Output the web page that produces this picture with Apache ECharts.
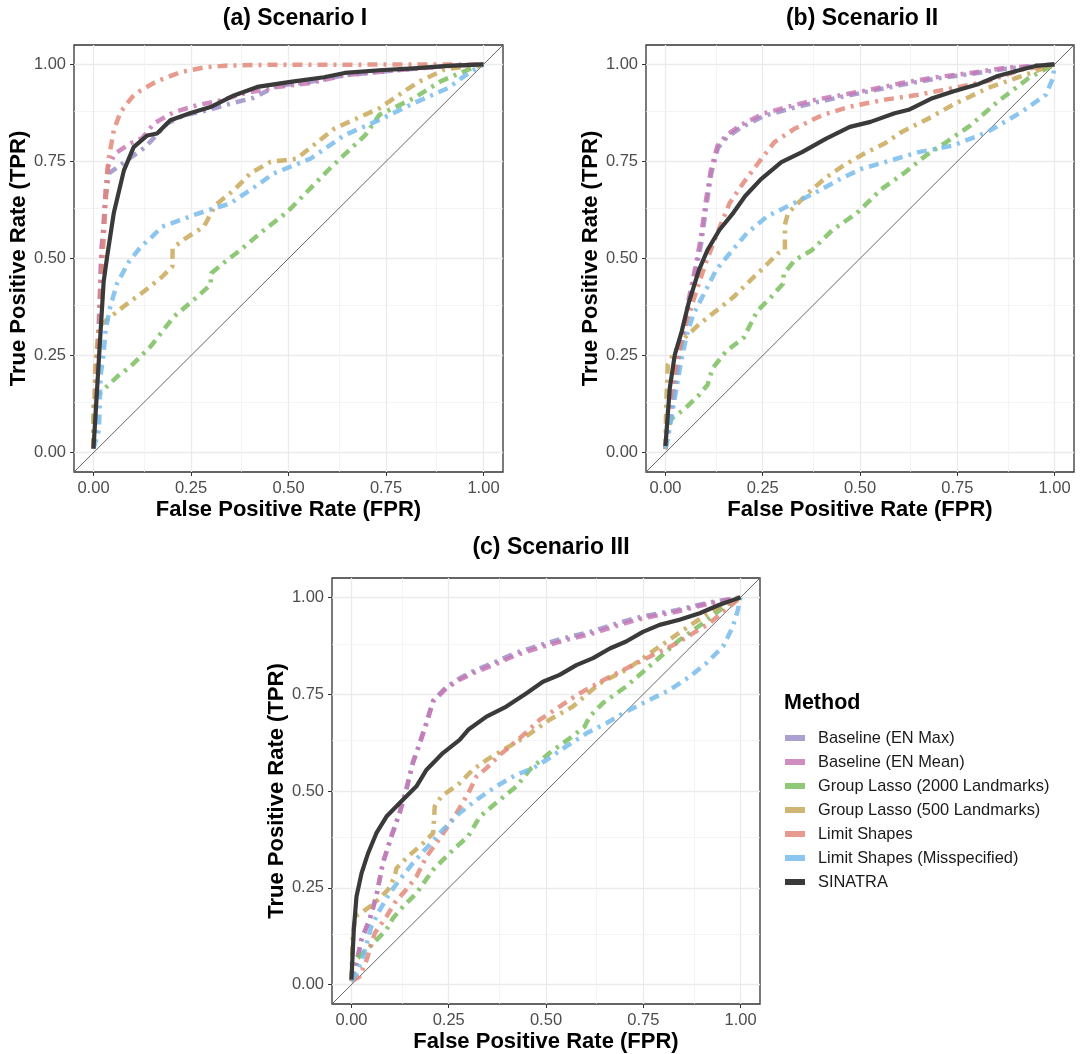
<!DOCTYPE html>
<html><head><meta charset="utf-8">
<script src="https://cdn.jsdelivr.net/npm/echarts@6/dist/echarts.min.js"></script>
<style>html,body{margin:0;padding:0;background:#fff}#c{width:1080px;height:1054px}</style>
</head><body><div id="c"></div>
<script>
// ---------- DATA (FPR, TPR) ----------
const methods = ['Baseline (EN Max)','Baseline (EN Mean)','Group Lasso (2000 Landmarks)','Group Lasso (500 Landmarks)','Limit Shapes','Limit Shapes (Misspecified)','SINATRA'];
const panelTitles = ['(a) Scenario I','(b) Scenario II','(c) Scenario III'];
const tickValues = [0,0.25,0.5,0.75,1];
const minorValues = [0.125,0.375,0.625,0.875];
const diagonal = [[-0.05,-0.05],[1.05,1.05]];

// Scenario I
const a_enMax = [[0,0.01],[0.004,0.1],[0.012,0.3],[0.02,0.5],[0.03,0.65],[0.04,0.72],[0.044,0.723],[0.086,0.753],[0.133,0.787],[0.189,0.848],[0.232,0.869],[0.292,0.882],[0.351,0.899],[0.411,0.914],[0.468,0.944],[0.556,0.955],[0.644,0.972],[0.777,0.985],[0.909,0.996],[1,1]];
const a_enMean = [[0,0.01],[0,0.026],[0.005,0.12],[0.009,0.222],[0.015,0.334],[0.018,0.437],[0.02,0.522],[0.026,0.582],[0.031,0.676],[0.037,0.736],[0.056,0.771],[0.095,0.797],[0.125,0.81],[0.155,0.848],[0.206,0.877],[0.266,0.895],[0.326,0.907],[0.385,0.925],[0.471,0.942],[0.556,0.952],[0.644,0.972],[0.777,0.985],[0.909,0.996],[1,1]];
const a_gl2000 = [[0,0.01],[0,0.136],[0.031,0.167],[0.061,0.196],[0.095,0.222],[0.146,0.273],[0.206,0.35],[0.262,0.398],[0.3,0.432],[0.302,0.462],[0.334,0.489],[0.377,0.522],[0.432,0.569],[0.497,0.62],[0.609,0.735],[0.697,0.818],[0.733,0.87],[0.821,0.913],[0.891,0.957],[0.962,0.987],[1,1]];
const a_gl500 = [[0,0.01],[0,0.05],[0.003,0.16],[0.005,0.23],[0.014,0.325],[0.044,0.35],[0.082,0.38],[0.129,0.415],[0.176,0.453],[0.202,0.479],[0.203,0.527],[0.236,0.552],[0.283,0.582],[0.313,0.638],[0.36,0.676],[0.403,0.72],[0.454,0.749],[0.521,0.757],[0.618,0.835],[0.733,0.887],[0.803,0.935],[0.838,0.957],[0.9,0.987],[1,1]];
const a_limit = [[0,0.01],[0.005,0.1],[0.012,0.25],[0.018,0.4],[0.022,0.48],[0.026,0.548],[0.035,0.719],[0.039,0.758],[0.052,0.83],[0.069,0.877],[0.099,0.916],[0.121,0.933],[0.163,0.957],[0.223,0.98],[0.282,0.992],[0.343,0.997],[0.454,0.999],[1,1]];
const a_miss = [[0,0.01],[0.014,0.059],[0.018,0.196],[0.026,0.257],[0.031,0.316],[0.044,0.38],[0.061,0.437],[0.091,0.492],[0.121,0.53],[0.146,0.552],[0.176,0.582],[0.223,0.599],[0.257,0.612],[0.296,0.625],[0.351,0.642],[0.407,0.68],[0.462,0.719],[0.556,0.757],[0.644,0.818],[0.733,0.857],[0.821,0.9],[0.909,0.939],[0.962,0.978],[1,1]];
const a_sinatra = [[0,0.01],[0.009,0.16],[0.018,0.31],[0.026,0.44],[0.035,0.505],[0.052,0.617],[0.078,0.727],[0.103,0.787],[0.138,0.817],[0.163,0.822],[0.197,0.856],[0.249,0.875],[0.3,0.89],[0.36,0.92],[0.42,0.942],[0.505,0.955],[0.591,0.967],[0.644,0.978],[0.733,0.985],[0.821,0.99],[0.909,0.996],[1,1]];

// Scenario II
const b_enMax = [[0,0.01],[0.012,0.09],[0.025,0.17],[0.043,0.29],[0.06,0.385],[0.078,0.47],[0.092,0.54],[0.105,0.635],[0.118,0.72],[0.135,0.785],[0.158,0.812],[0.195,0.838],[0.255,0.868],[0.32,0.886],[0.39,0.903],[0.46,0.918],[0.53,0.932],[0.61,0.948],[0.7,0.964],[0.79,0.976],[0.875,0.989],[1,1]];
const b_enMean = [[0,0.009],[0.011,0.087],[0.024,0.174],[0.042,0.296],[0.059,0.391],[0.077,0.478],[0.09,0.548],[0.103,0.643],[0.117,0.73],[0.134,0.791],[0.156,0.817],[0.192,0.843],[0.254,0.874],[0.315,0.891],[0.386,0.909],[0.457,0.922],[0.527,0.935],[0.607,0.952],[0.695,0.967],[0.784,0.978],[0.872,0.991],[1,1]];
const b_gl2000 = [[0,0.009],[0.002,0.052],[0.015,0.087],[0.05,0.113],[0.086,0.148],[0.108,0.174],[0.121,0.217],[0.156,0.261],[0.201,0.296],[0.236,0.365],[0.271,0.4],[0.302,0.435],[0.304,0.461],[0.333,0.496],[0.377,0.522],[0.43,0.574],[0.492,0.617],[0.554,0.678],[0.616,0.722],[0.669,0.765],[0.722,0.8],[0.784,0.843],[0.854,0.904],[0.934,0.965],[1,1]];
const b_gl500 = [[0,0.01],[0.002,0.122],[0.006,0.226],[0.024,0.261],[0.05,0.296],[0.086,0.33],[0.13,0.365],[0.174,0.4],[0.209,0.435],[0.254,0.478],[0.289,0.513],[0.307,0.522],[0.307,0.587],[0.315,0.617],[0.368,0.67],[0.413,0.709],[0.457,0.739],[0.51,0.77],[0.563,0.796],[0.607,0.826],[0.669,0.857],[0.739,0.896],[0.828,0.939],[0.916,0.97],[1,1]];
const b_limit = [[0,0.009],[0.015,0.139],[0.033,0.252],[0.055,0.339],[0.077,0.409],[0.103,0.487],[0.13,0.557],[0.165,0.643],[0.201,0.696],[0.24,0.748],[0.28,0.8],[0.333,0.835],[0.404,0.87],[0.474,0.891],[0.563,0.909],[0.651,0.922],[0.739,0.939],[0.828,0.957],[0.916,0.987],[1,1]];
const b_miss = [[0,0.01],[0.006,0.035],[0.015,0.087],[0.028,0.165],[0.042,0.243],[0.055,0.304],[0.072,0.357],[0.099,0.409],[0.13,0.47],[0.165,0.513],[0.209,0.565],[0.262,0.609],[0.315,0.635],[0.386,0.67],[0.448,0.704],[0.501,0.73],[0.563,0.748],[0.651,0.774],[0.739,0.791],[0.828,0.826],[0.916,0.878],[0.978,0.922],[0.996,0.965],[1,1]];
const b_sinatra = [[0,0.017],[0.011,0.165],[0.024,0.252],[0.042,0.313],[0.059,0.383],[0.086,0.47],[0.108,0.522],[0.139,0.574],[0.174,0.617],[0.205,0.661],[0.245,0.704],[0.298,0.748],[0.351,0.774],[0.413,0.809],[0.474,0.839],[0.527,0.852],[0.589,0.874],[0.625,0.883],[0.686,0.913],[0.739,0.93],[0.801,0.948],[0.854,0.97],[0.916,0.987],[0.951,0.996],[1,1]];

// Scenario III
const c_enMax = [[0,0.009],[0.013,0.058],[0.026,0.118],[0.047,0.17],[0.064,0.23],[0.081,0.316],[0.103,0.385],[0.124,0.445],[0.141,0.505],[0.158,0.575],[0.176,0.626],[0.193,0.678],[0.21,0.734],[0.244,0.769],[0.278,0.791],[0.312,0.809],[0.364,0.831],[0.424,0.857],[0.492,0.879],[0.552,0.896],[0.621,0.913],[0.689,0.935],[0.749,0.951],[0.835,0.967],[0.92,0.987],[1,1]];
const c_enMean = [[0,0.009],[0.013,0.056],[0.026,0.116],[0.047,0.168],[0.064,0.228],[0.081,0.314],[0.103,0.383],[0.124,0.443],[0.141,0.503],[0.158,0.572],[0.176,0.623],[0.193,0.675],[0.21,0.731],[0.244,0.765],[0.278,0.787],[0.312,0.804],[0.364,0.825],[0.424,0.851],[0.492,0.873],[0.552,0.89],[0.621,0.907],[0.689,0.929],[0.749,0.946],[0.835,0.963],[0.92,0.984],[1,1]];
const c_gl2000 = [[0,0.009],[0.004,0.056],[0.021,0.073],[0.056,0.107],[0.09,0.142],[0.107,0.172],[0.133,0.202],[0.167,0.236],[0.21,0.297],[0.261,0.348],[0.3,0.383],[0.33,0.434],[0.381,0.477],[0.424,0.512],[0.462,0.559],[0.509,0.598],[0.561,0.636],[0.599,0.666],[0.612,0.692],[0.646,0.727],[0.706,0.77],[0.775,0.83],[0.843,0.89],[0.903,0.933],[0.963,0.98],[1,1]];
const c_gl500 = [[0,0.009],[0.003,0.116],[0.009,0.176],[0.03,0.189],[0.06,0.211],[0.094,0.245],[0.111,0.279],[0.116,0.301],[0.15,0.335],[0.184,0.365],[0.21,0.391],[0.214,0.46],[0.231,0.486],[0.278,0.52],[0.312,0.555],[0.347,0.58],[0.39,0.606],[0.449,0.641],[0.509,0.684],[0.569,0.718],[0.638,0.778],[0.706,0.813],[0.792,0.873],[0.878,0.933],[0.946,0.976],[1,1]];
const c_limit = [[0,0.009],[0.021,0.021],[0.039,0.064],[0.06,0.133],[0.09,0.176],[0.111,0.211],[0.137,0.241],[0.167,0.279],[0.193,0.331],[0.231,0.383],[0.27,0.443],[0.3,0.494],[0.321,0.537],[0.347,0.559],[0.381,0.593],[0.432,0.636],[0.484,0.684],[0.535,0.718],[0.586,0.752],[0.664,0.795],[0.749,0.838],[0.835,0.881],[0.92,0.933],[1,1]];
const c_miss = [[0,0.009],[0.013,0.03],[0.03,0.073],[0.051,0.15],[0.073,0.193],[0.098,0.236],[0.124,0.271],[0.158,0.314],[0.193,0.353],[0.235,0.4],[0.278,0.443],[0.321,0.477],[0.372,0.512],[0.424,0.542],[0.467,0.559],[0.501,0.58],[0.552,0.615],[0.604,0.649],[0.655,0.675],[0.706,0.705],[0.758,0.731],[0.818,0.761],[0.869,0.795],[0.912,0.83],[0.955,0.873],[0.98,0.924],[0.993,0.967],[1,1]];
const c_sinatra = [[0,0.013],[0.006,0.142],[0.013,0.228],[0.026,0.288],[0.043,0.34],[0.064,0.391],[0.09,0.434],[0.124,0.469],[0.167,0.512],[0.193,0.555],[0.235,0.598],[0.278,0.632],[0.3,0.658],[0.347,0.692],[0.398,0.718],[0.449,0.752],[0.492,0.782],[0.535,0.8],[0.578,0.825],[0.621,0.843],[0.664,0.868],[0.706,0.886],[0.749,0.911],[0.792,0.929],[0.843,0.942],[0.895,0.959],[0.946,0.981],[1,1]];

const panelData = [
  [a_enMax,a_enMean,a_gl2000,a_gl500,a_limit,a_miss,a_sinatra],
  [b_enMax,b_enMean,b_gl2000,b_gl500,b_limit,b_miss,b_sinatra],
  [c_enMax,c_enMean,c_gl2000,c_gl500,c_limit,c_miss,c_sinatra]
];

// ---------- STYLE ----------
const colors = ['#9C8FC7','#C779B5','#7BBE5E','#C9A95B','#E2897A','#78BCEC','#3A3A3A'];
const FONT = 'Liberation Sans, Arial, Helvetica, sans-serif';
const grids = [
  {left:74, top:45, width:429, height:427},
  {left:646, top:45, width:428, height:427},
  {left:332, top:578, width:428, height:426}
];
const titlePos = [[295,19],[862,19],[551,548]];

const chart = echarts.init(document.getElementById('c'), null, {renderer:'canvas'});

const xAxes = [], yAxes = [], series = [];
grids.forEach((g,i)=>{
  const common = {
    gridIndex:i, type:'value', min:-0.05, max:1.05,
    splitLine:{show:false}, axisLine:{show:false, onZero:false},
    axisTick:{show:true, inside:false, customValues:tickValues, length:4, lineStyle:{color:'#333', width:1}},
    axisLabel:{customValues:tickValues, formatter:v=>v.toFixed(2), color:'#4D4D4D', fontSize:16.5, fontFamily:FONT},
    nameLocation:'middle',
    nameTextStyle:{fontSize:22, fontWeight:'bold', color:'#000', fontFamily:FONT}
  };
  xAxes.push(Object.assign({}, common, {position:'bottom', name:'False Positive Rate (FPR)', nameGap:27,
    axisLabel:Object.assign({}, common.axisLabel, {margin:8})}));
  yAxes.push(Object.assign({}, common, {position:'left', name:'True Positive Rate (TPR)', nameGap:42,
    axisLabel:Object.assign({}, common.axisLabel, {margin:8})}));

  const ml = [];
  tickValues.forEach(v=>{ ml.push({xAxis:v, lineStyle:{color:'#EBEBEB', width:1.3, type:'solid'}}); ml.push({yAxis:v, lineStyle:{color:'#EBEBEB', width:1.3, type:'solid'}}); });
  minorValues.forEach(v=>{ ml.push({xAxis:v, lineStyle:{color:'#EFEFEF', width:0.7, type:'solid'}}); ml.push({yAxis:v, lineStyle:{color:'#EFEFEF', width:0.7, type:'solid'}}); });

  series.push({
    type:'line', name:'diag'+i, xAxisIndex:i, yAxisIndex:i, data:diagonal,
    symbol:'none', silent:true, animation:false, z:1,
    lineStyle:{color:'#666', width:1},
    markLine:{silent:true, symbol:['none','none'], label:{show:false}, animation:false, data:ml, z:0}
  });

  panelData[i].forEach((d,k)=>{
    const solid = k===6;
    series.push({
      type:'line', name:methods[k], xAxisIndex:i, yAxisIndex:i, data:d,
      symbol:'none', showSymbol:false, animation:false, z:2+k,
      itemStyle:{color:colors[k], opacity: solid?1:0.85},
      lineStyle:{color:colors[k], width: solid?4.2:4.5, opacity: solid?1:0.85,
        type: solid?'solid':[10,6,3,6], cap:'butt', join:'round'}
    });
  });
});

const graphics = panelTitles.map((t,i)=>({type:'text', style:{text:t, x:titlePos[i][0], y:titlePos[i][1],
  textAlign:'center', textVerticalAlign:'middle', font:'bold 23px '+FONT, fill:'#000'}}));
graphics.push({type:'text', style:{text:'Method', x:784, y:703, textAlign:'left', textVerticalAlign:'middle', font:'bold 21.5px '+FONT, fill:'#000'}});

chart.setOption({
  animation:false,
  textStyle:{fontFamily:FONT},
  grid: grids.map(g=>Object.assign({show:true, borderColor:'#333', borderWidth:1.3, backgroundColor:'transparent'}, g)),
  xAxis:xAxes, yAxis:yAxes,
  legend:{
    data:methods, orient:'vertical', left:780, top:724,
    icon:'rect', itemWidth:20, itemHeight:6, itemGap:6,
    textStyle:{fontSize:16.4, color:'#1A1A1A', fontFamily:FONT, lineHeight:18, padding:[0,0,0,8]},
    selectedMode:false
  },
  graphic:graphics,
  series:series
});
</script></body></html>
